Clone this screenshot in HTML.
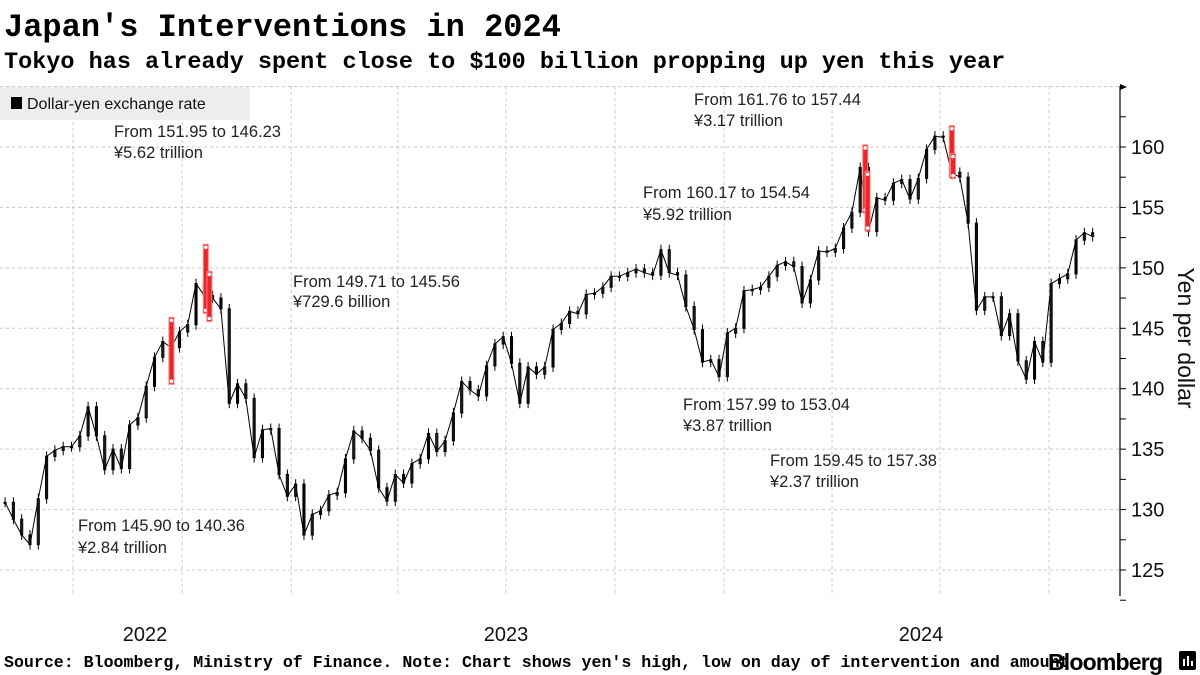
<!DOCTYPE html>
<html><head><meta charset="utf-8"><style>
body{margin:0;background:#fff;width:1200px;height:675px;overflow:hidden;font-family:"Liberation Sans",sans-serif}
svg{display:block}
</style></head><body>
<svg id="chart" width="1200" height="675" viewBox="0 0 1200 675">
<text x="4" y="36" font-family="Liberation Mono,monospace" font-weight="bold" font-size="32" fill="#000">Japan's Interventions in 2024</text>
<text x="4" y="68" font-family="Liberation Mono,monospace" font-weight="bold" font-size="23.5" fill="#000">Tokyo has already spent close to $100 billion propping up yen this year</text>
<g id="grid"></g>
<g id="axis"></g>
<g id="marks"></g>
<g id="interv"></g>
<g>
<rect x="0" y="87" width="250" height="33" fill="#eeeeee"/>
<rect x="11" y="97" width="11" height="12" fill="#000"/>
<text x="27" y="109" font-size="16" fill="#111">Dollar-yen exchange rate</text>
</g>
<g font-size="16.5" fill="#222">
<text x="114" y="137">From 151.95 to 146.23</text>
<text x="114" y="158">¥5.62 trillion</text>
<text x="293" y="287">From 149.71 to 145.56</text>
<text x="293" y="307">¥729.6 billion</text>
<text x="78" y="531">From 145.90 to 140.36</text>
<text x="78" y="553">¥2.84 trillion</text>
<text x="694" y="105">From 161.76 to 157.44</text>
<text x="694" y="126">¥3.17 trillion</text>
<text x="643" y="198">From 160.17 to 154.54</text>
<text x="643" y="220">¥5.92 trillion</text>
<text x="683" y="410">From 157.99 to 153.04</text>
<text x="683" y="431">¥3.87 trillion</text>
<text x="770" y="466">From 159.45 to 157.38</text>
<text x="770" y="487">¥2.37 trillion</text>
</g>
<g font-size="20" fill="#111" text-anchor="middle">
<text x="145" y="641">2022</text>
<text x="506" y="641">2023</text>
<text x="921" y="641">2024</text>
</g>
<text transform="translate(1178,338) rotate(90)" font-size="23" fill="#111" text-anchor="middle">Yen per dollar</text>
<text x="4" y="667" font-family="Liberation Mono,monospace" font-weight="bold" font-size="16.6" fill="#000">Source: Bloomberg, Ministry of Finance. Note: Chart shows yen's high, low on day of intervention and amount</text>
<g>
<text x="1048" y="670" font-size="23" font-weight="bold" fill="#000" letter-spacing="-0.8">Bloomberg</text>
<rect x="1179" y="651" width="17" height="19" rx="2" fill="#000"/>
<rect x="1183" y="659" width="2" height="7" fill="#fff"/><rect x="1187" y="656" width="2" height="10" fill="#fff"/><rect x="1191" y="661" width="2" height="5" fill="#fff"/>
</g>
</svg>
<script>
const startDate = "2022-05-06";
const weeklyClose = [
130.6,129.2,127.9,127.1,
130.9,134.4,134.9,135.2,
135.2,136.1,138.5,136.1,133.3,
135.0,133.4,137.0,137.6,
140.2,142.6,143.9,143.4,144.7,
145.3,148.7,147.7,147.5,
146.6,138.8,140.4,139.2,
134.3,136.6,136.7,132.9,131.1,
132.1,127.9,129.6,129.9,
131.2,131.4,134.2,136.5,
135.9,134.9,131.8,130.7,132.9,
132.2,133.8,134.2,136.3,
134.8,135.7,138.0,140.6,
139.9,139.4,141.9,143.7,144.3,
142.1,138.8,141.8,141.2,
141.8,144.9,145.4,146.4,
146.2,147.8,147.9,148.4,149.3,
149.3,149.6,149.9,149.6,
149.4,151.5,149.6,149.4,
146.8,144.9,142.2,142.4,141.0,
144.6,145.0,148.1,148.2,
148.4,149.3,150.2,150.5,
150.1,147.1,149.0,151.4,151.3,
151.6,153.3,154.6,158.3,
153.0,155.8,155.6,157.0,157.3,
155.7,157.4,159.8,160.9,
160.8,157.9,157.5,153.7,
146.5,147.6,147.6,144.4,146.2,
142.3,140.8,143.9,142.2,
148.7,149.1,149.5,152.3,
152.9,152.6
];
const interventionDates = ["2022-09-22","2022-10-21","2022-10-24","2024-04-29","2024-05-01","2024-07-11","2024-07-12"];
const interventionHigh = [145.90,151.95,149.71,160.17,157.99,161.76,159.45];
const interventionLow = [140.36,146.23,145.56,154.54,153.04,157.44,157.38];
const yTicks = [125,130,135,140,145,150,155,160];
const gridDates = ["2022-07-01","2022-10-01","2023-01-01","2023-04-01","2023-07-01","2023-10-01","2024-01-01","2024-04-01","2024-07-01","2024-10-01"];

const NS="http://www.w3.org/2000/svg";
const DAY=86400000, ref=Date.UTC(2022,6,1);
function xd(s){const p=s.split("-");return 73+(Date.UTC(+p[0],p[1]-1,+p[2])-ref)/DAY*1.186;}
function y(v){return 570-(v-125)*12.086;}
function mk(t,a,parent){const e=document.createElementNS(NS,t);for(const k in a)e.setAttribute(k,a[k]);parent.appendChild(e);return e;}
const grid=document.getElementById("grid"),axis=document.getElementById("axis"),marks=document.getElementById("marks"),iv=document.getElementById("interv");
for(const t of [...yTicks,165]){const l=mk("line",{x1:0,x2:1120,y1:y(t),y2:y(t),stroke:"#c8c8c8","stroke-dasharray":"3,3","stroke-width":1},grid);

}
for(const d of gridDates){const l=mk("line",{x1:xd(d),x2:xd(d),y1:86,y2:596,stroke:"#c8c8c8","stroke-dasharray":"3,3","stroke-width":1},grid);

}
mk("line",{x1:1120,x2:1120,y1:86,y2:596,stroke:"#000","stroke-width":1.2},axis);
mk("path",{d:"M1120,84 l7,3 l-7,3z",fill:"#000"},axis);
for(let v=122.5;v<=162.5;v+=2.5){mk("line",{x1:1120,x2:1126,y1:y(v),y2:y(v),stroke:"#000","stroke-width":1},axis);}
for(const t of yTicks){const tx=mk("text",{x:1131,y:y(t)+7,"font-size":20,fill:"#111"},axis);tx.textContent=t;

}
const sd=Date.UTC(2022,4,6);
let pts=[];
for(let i=0;i<weeklyClose.length;i++){
  const d=new Date(sd+i*7*DAY).toISOString().slice(0,10);
  const x=xd(d), c=weeklyClose[i], o=i?weeklyClose[i-1]:c;
  const top=y(Math.max(o,c)), bot=y(Math.min(o,c));
  const r=mk("rect",{x:x-2.5,y:top,width:2,height:Math.max(1,bot-top),fill:"#fff",stroke:"#000","stroke-width":1.1},marks);
  
  
  mk("line",{x1:x-1.5,x2:x-1.5,y1:top-5,y2:bot+5,stroke:"#000","stroke-width":1},marks);
  pts.push((x-1.5)+","+y(c));
}
const pl=mk("polyline",{points:pts.join(" "),fill:"none",stroke:"#000","stroke-width":1},marks);


for(let i=0;i<interventionDates.length;i++){
  const x=xd(interventionDates[i]);
  const r=mk("rect",{x:x-2.5,y:y(interventionHigh[i]),width:5,height:y(interventionLow[i])-y(interventionHigh[i]),fill:"#e8252b",stroke:"#ff8080","stroke-width":1},iv);
  
  
  mk("circle",{cx:x,cy:y(interventionHigh[i])+3,r:1.8,fill:"#fff"},iv);
  mk("circle",{cx:x,cy:y(interventionLow[i])-3,r:1.8,fill:"#fff"},iv);
}
</script>
</body></html>
